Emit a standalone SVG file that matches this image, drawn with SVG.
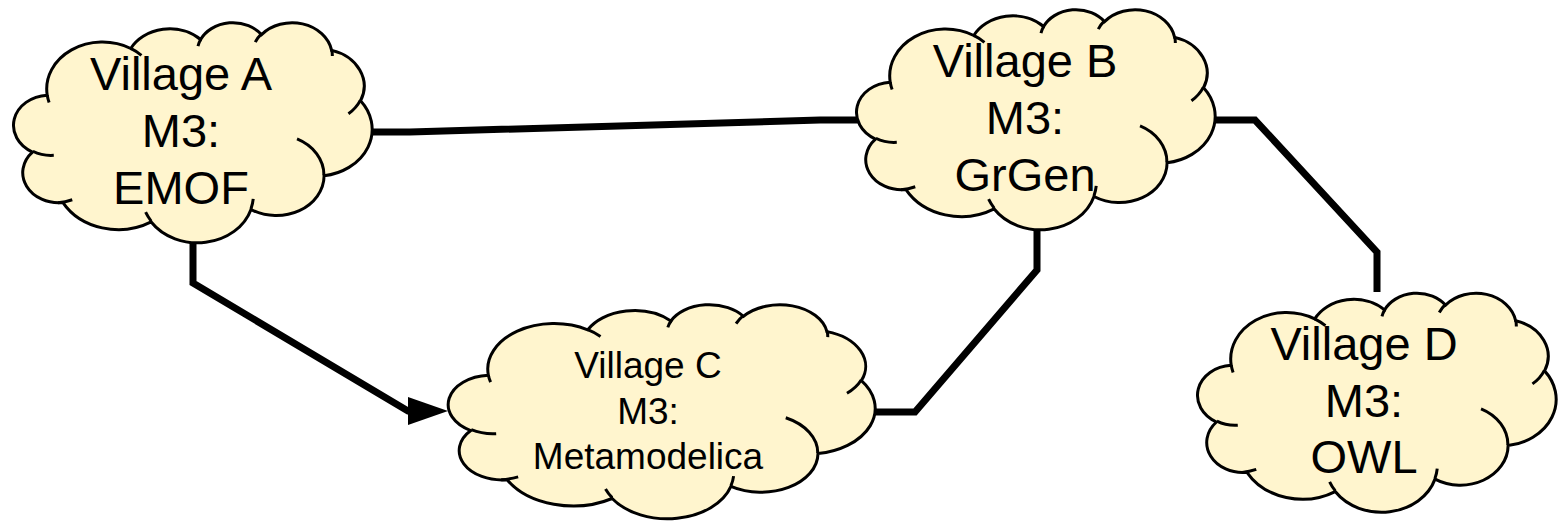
<svg xmlns="http://www.w3.org/2000/svg" width="1559" height="525" viewBox="0 0 1559 525">
<defs>
<style>
.cloud{fill:#fff5ce;stroke:#000;stroke-width:3}
.inner{fill:none;stroke:#000;stroke-width:3}
.lbl{font-family:"Liberation Sans",Arial,sans-serif;font-size:47px;fill:#000;text-anchor:middle}
.small{font-size:37px}
.conn{fill:none;stroke:#000;stroke-width:7;stroke-linejoin:miter}
</style>
<path id="cloudShape" vector-effect="non-scaling-stroke" d="M3900,14370 A6753,9190 0 0 1 14005,5202 A5333,7267 0 0 1 22456,3432 A4365,5945 0 0 1 29833,2480 A4857,6595 0 0 1 38318,5575 A5333,7273 0 0 1 41818,15459 A6775,9220 0 0 1 37404,30203 A5785,7867 0 0 1 28556,36813 A6752,9215 0 0 1 16480,39264 A7720,10543 0 0 1 5804,35468 A4360,5918 0 0 1 2112,25546 A4345,5945 0 0 1 3900,14370 Z"/>
<path id="cloudInner" vector-effect="non-scaling-stroke" d="M4693,26177 A4345,5945 0 0 1 2160,25380 M6928,34899 A6752,9215 0 0 1 5204,35499 M16478,39090 A6753,9190 0 0 1 15807,37352 M28827,34751 A6752,9215 0 0 1 28560,36660 M34129,22954 A5785,7867 0 0 1 37381,30090 M41798,15354 A5333,7273 0 0 1 40351,18029 M38324,5426 A4857,6595 0 0 1 38400,6690 M29078,3952 A4857,6595 0 0 1 29819,2341 M22141,4720 A4365,5945 0 0 1 22500,3330 M14000,5192 A6753,9190 0 0 1 15300,6541 M4127,15789 A6753,9190 0 0 1 3900,14370"/>
<marker id="arrow" markerUnits="userSpaceOnUse" viewBox="0 0 40 28" refX="22" refY="14" markerWidth="40" markerHeight="28" orient="auto">
<path d="M0,0 L40,14 L0,28 Z" fill="#000"/>
</marker>
</defs>
<g id="connectors">
<path class="conn" d="M368,132 H410 L820,120 H862"/>
<path class="conn" d="M193,238 V283 L408,411 H430" marker-end="url(#arrow)"/>
<path class="conn" d="M871,412 H915 L1037,270 V226"/>
<path class="conn" d="M1211,120 H1255 L1377,252 V292"/>
</g>
<g id="villageA">
<g transform="translate(15,22) scale(0.0082639,0.0050926)">
<use href="#cloudShape" class="cloud"/>
<use href="#cloudInner" class="inner"/>
</g>
<text class="lbl" x="181" y="90">Village A</text>
<text class="lbl" x="181" y="147">M3:</text>
<text class="lbl" x="181" y="204">EMOF</text>
</g>
<g id="villageB">
<g transform="translate(858,9) scale(0.0082639,0.0050926)">
<use href="#cloudShape" class="cloud"/>
<use href="#cloudInner" class="inner"/>
</g>
<text class="lbl" x="1025" y="77">Village B</text>
<text class="lbl" x="1025" y="134">M3:</text>
<text class="lbl" x="1025" y="191">GrGen</text>
</g>
<g id="villageC">
<g transform="translate(450,304) scale(0.0098380,0.0049537)">
<use href="#cloudShape" class="cloud"/>
<use href="#cloudInner" class="inner"/>
</g>
<text class="lbl small" x="648" y="378">Village C</text>
<text class="lbl small" x="648" y="424">M3:</text>
<text class="lbl small" x="648" y="469">Metamodelica</text>
</g>
<g id="villageD">
<g transform="translate(1199,292.5) scale(0.0082639,0.0050694)">
<use href="#cloudShape" class="cloud"/>
<use href="#cloudInner" class="inner"/>
</g>
<text class="lbl" x="1364" y="360">Village D</text>
<text class="lbl" x="1364" y="417">M3:</text>
<text class="lbl" x="1364" y="473">OWL</text>
</g>
</svg>
